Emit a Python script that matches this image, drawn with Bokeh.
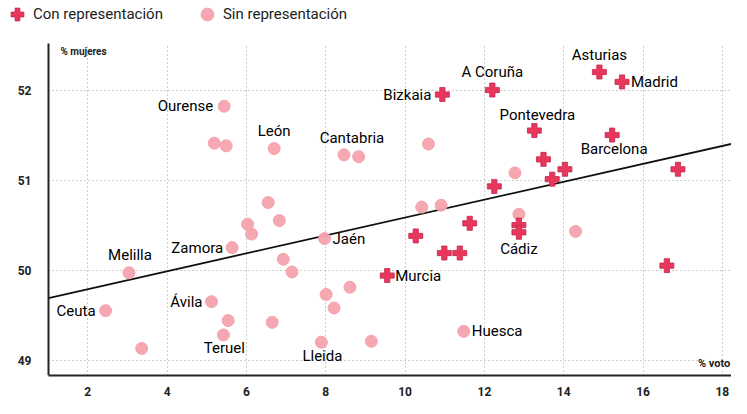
from bokeh.plotting import figure
from bokeh.models import ColumnDataSource, Legend, LegendItem, Label
from bokeh.core.properties import value
from bokeh.embed import file_html
from bokeh.resources import INLINE

# Con representación (crosses)
con_names = ["Asturias", "Madrid", "A Coruña", "Bizkaia", "Pontevedra", "Barcelona",
             "", "", "", "", "", "", "", "", "Cádiz", "", "", "Murcia", ""]
con_x = [14.90, 15.47, 12.20, 10.94, 13.26, 15.22,
         13.49, 14.03, 13.71, 12.25, 16.88, 10.27, 11.63, 12.87, 12.87, 10.99, 11.38, 9.55, 16.60]
con_y = [52.20, 52.09, 52.00, 51.95, 51.55, 51.50,
         51.23, 51.12, 51.01, 50.93, 51.12, 50.38, 50.52, 50.50, 50.42, 50.19, 50.19, 49.94, 50.05]

# Sin representación (dots)
sin_names = ["Ourense", "", "", "León", "Cantabria", "", "", "", "", "", "", "",
             "Zamora", "Jaén", "", "", "", "", "Melilla", "", "", "", "",
             "Ávila", "Ceuta", "", "", "", "Teruel", "", "Lleida", "", "Huesca"]
sin_x = [5.44, 5.19, 5.49, 6.70, 8.46, 8.83, 10.59, 12.77, 6.55, 6.83, 6.03, 6.13,
         5.64, 7.97, 10.42, 10.91, 12.87, 14.30, 3.04, 6.93, 7.15, 8.61, 8.01,
         5.12, 2.45, 8.21, 5.54, 6.65, 5.42, 3.36, 7.89, 9.15, 11.48]
sin_y = [51.82, 51.41, 51.38, 51.35, 51.28, 51.26, 51.40, 51.08, 50.75, 50.55, 50.51, 50.40,
         50.25, 50.35, 50.70, 50.72, 50.62, 50.43, 49.97, 50.12, 49.98, 49.81, 49.73,
         49.65, 49.55, 49.58, 49.44, 49.42, 49.28, 49.13, 49.20, 49.21, 49.32]

x_ticks = [2, 4, 6, 8, 10, 12, 14, 16, 18]
y_ticks = [49, 50, 51, 52]
trend_slope = 0.0994
trend_intercept = 49.59

# axis extents of the chart area
X_MIN, X_MAX = 1.01, 18.23
Y_MIN, Y_MAX = 48.83, 52.52

# label placement (screen px offsets, alignment) by name
label_style = {
    "Asturias": (0, -17, "center"), "Madrid": (9, 0, "left"), "A Coruña": (0, -18, "center"),
    "Bizkaia": (-11, 0, "right"), "Pontevedra": (3, -16, "center"), "Barcelona": (2, 14, "center"),
    "Cádiz": (0, 17, "center"), "Murcia": (8, 0, "left"), "Ourense": (-11, 0, "right"),
    "León": (0, -18, "center"), "Cantabria": (8, -17, "center"), "Zamora": (-9, 0, "right"),
    "Jaén": (8, 0, "left"), "Melilla": (1, -18, "center"), "Ávila": (-9, 0, "right"),
    "Ceuta": (-10, 0, "right"), "Teruel": (1, 13, "center"), "Lleida": (1, 14, "center"),
    "Huesca": (8, 0, "left"),
}

FONT = "Roboto"
RED = "#e8365d"
PINK = "#f5a3ae"

p = figure(width=731, height=398, x_range=(-0.20, X_MAX), y_range=(Y_MIN, 52.994),
           output_backend="svg", toolbar_location=None,
           min_border_left=0, min_border_right=0, min_border_top=0, min_border_bottom=20)
p.outline_line_color = None
p.background_fill_color = "white"

for ax in (p.xaxis, p.yaxis):
    ax.major_tick_line_color = None
    ax.minor_tick_line_color = None
    ax.axis_line_color = "#222222"
    ax.axis_line_width = 2
    ax.major_label_text_font = FONT
    ax.major_label_text_font_style = "bold"
    ax.major_label_text_font_size = "12px"
    ax.major_label_text_color = "#222222"
p.xaxis.ticker = x_ticks
p.yaxis.ticker = y_ticks
p.xaxis.major_label_standoff = 5
p.yaxis.major_label_standoff = 11
p.yaxis.fixed_location = X_MIN
p.yaxis.bounds = (Y_MIN, Y_MAX)
p.xaxis.bounds = (X_MIN, X_MAX)

for g in (p.xgrid, p.ygrid):
    g.grid_line_color = "#9a9a9a"
    g.grid_line_dash = "1 3"
    g.grid_line_width = 1
try:
    p.xgrid.cross_bounds = (Y_MIN, Y_MAX)
    p.ygrid.cross_bounds = (X_MIN, X_MAX)
except Exception:
    pass

trend_x = [X_MIN, X_MAX]
trend_y = [trend_intercept + trend_slope * v for v in trend_x]
p.line(trend_x, trend_y, line_color="#111111", line_width=1.8)

sin_src = ColumnDataSource(dict(x=sin_x, y=sin_y))
con_src = ColumnDataSource(dict(x=con_x, y=con_y))
r_sin = p.scatter("x", "y", source=sin_src, marker="circle", size=12,
                  fill_color=PINK, line_color=PINK, fill_alpha=0.95)
r_con = p.scatter("x", "y", source=con_src, marker="plus", size=14,
                  fill_color=RED, line_color="#c4284c", line_width=0.8)

lx, ly, lt, lxo, lyo, la = [], [], [], [], [], []
for names, xs, ys in ((con_names, con_x, con_y), (sin_names, sin_x, sin_y)):
    for n, xv, yv in zip(names, xs, ys):
        if n:
            dx, dy, al = label_style[n]
            lx.append(xv); ly.append(yv); lt.append(n)
            lxo.append(dx); lyo.append(dy); la.append(al)
lab_src = ColumnDataSource(dict(x=lx, y=ly, text=lt, xo=lxo, yo=lyo, align=la))
p.text("x", "y", text="text", source=lab_src, x_offset="xo", y_offset="yo",
       text_align="align", text_baseline="middle", text_font=value(FONT),
       text_font_size="15px", text_color="#000000")

p.add_layout(Label(x=1.31, y=52.43, text="% mujeres", text_font=FONT, text_font_style="bold",
                   text_font_size="10px", text_color="#222222", text_baseline="middle"))
p.add_layout(Label(x=18.2, y=48.96, text="% voto", text_font=FONT, text_font_style="bold",
                   text_font_size="11px", text_color="#222222", text_baseline="middle",
                   text_align="right", background_fill_color="white"))

legend = Legend(items=[LegendItem(label="Con representación", renderers=[r_con]),
                       LegendItem(label="Sin representación", renderers=[r_sin])],
                orientation="horizontal", location=(1, 345), padding=0, margin=0,
                spacing=28, glyph_width=32, glyph_height=32, label_height=32,
                label_standoff=0, label_text_font=FONT, label_text_font_size="15px",
                label_text_color="#222222", border_line_color=None,
                background_fill_alpha=0)
p.add_layout(legend)

open("out.html", "w").write(file_html(p, INLINE))
